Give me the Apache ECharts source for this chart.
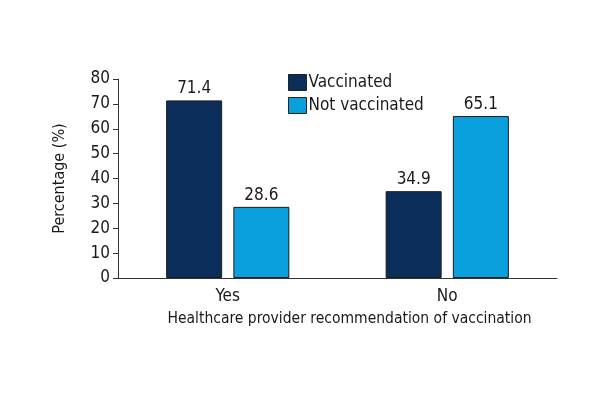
<!DOCTYPE html>
<html><head><meta charset="utf-8">
<script src="https://cdn.jsdelivr.net/npm/echarts@6/dist/echarts.min.js"></script>
<style>html,body{margin:0;padding:0;background:#fff}#c{width:600px;height:400px}</style>
</head><body><div id="c"></div>
<script>
const categories = ['Yes', 'No'];
const vaccinated = [71.4, 34.9];
const notVaccinated = [28.6, 65.1];
const yTicks = [0, 10, 20, 30, 40, 50, 60, 70, 80];

const FONT = '"DejaVu Sans Condensed", "Liberation Sans Narrow", sans-serif';
const chart = echarts.init(document.getElementById('c'));
chart.setOption({
  animation: false,
  textStyle: { fontFamily: FONT },
  grid: { left: 118, right: 43, top: 79, bottom: 122 },
  legend: {
    left: 283, top: 69, orient: 'vertical', itemWidth: 18, itemHeight: 16, itemGap: 6,
    icon: 'rect',
    textStyle: { fontFamily: FONT, fontSize: 17, color: '#1a1a1a', padding: [0, 0, 0, -3] },
    itemStyle: { borderColor: '#222', borderWidth: 1 },
    data: ['Vaccinated', 'Not vaccinated']
  },
  xAxis: {
    type: 'category', data: categories,
    name: 'Healthcare provider recommendation of vaccination',
    nameLocation: 'middle', nameGap: 33,
    nameTextStyle: { fontFamily: FONT, fontSize: 15.5, color: '#1a1a1a', padding: [0, 0, 0, 24] },
    axisLine: { lineStyle: { color: '#333', width: 1 } },
    axisTick: { show: false },
    axisLabel: { fontFamily: FONT, fontSize: 17, color: '#1a1a1a', margin: 10 }
  },
  yAxis: {
    type: 'value', min: yTicks[0], max: yTicks[yTicks.length - 1], interval: 10,
    name: 'Percentage (%)', nameLocation: 'middle', nameGap: 50,
    nameTextStyle: { fontFamily: FONT, fontSize: 16, color: '#1a1a1a' },
    axisLine: { show: true, lineStyle: { color: '#333', width: 1 } },
    axisTick: { show: true, length: 5, lineStyle: { color: '#333' } },
    splitLine: { show: false },
    axisLabel: { fontFamily: FONT, fontSize: 17, color: '#1a1a1a', margin: 8 }
  },
  series: [
    {
      name: 'Vaccinated', type: 'bar', data: vaccinated, barWidth: 56, barGap: '20%',
      itemStyle: { color: '#0b2d59', borderColor: '#1a1a1a', borderWidth: 1 },
      label: { show: true, position: 'top', distance: 3, fontFamily: FONT, fontSize: 17, color: '#1a1a1a', formatter: p => p.value.toFixed(1) }
    },
    {
      name: 'Not vaccinated', type: 'bar', data: notVaccinated, barWidth: 56,
      itemStyle: { color: '#0aa0de', borderColor: '#1a1a1a', borderWidth: 1 },
      label: { show: true, position: 'top', distance: 3, fontFamily: FONT, fontSize: 17, color: '#1a1a1a', formatter: p => p.value.toFixed(1) }
    }
  ]
});
</script></body></html>
